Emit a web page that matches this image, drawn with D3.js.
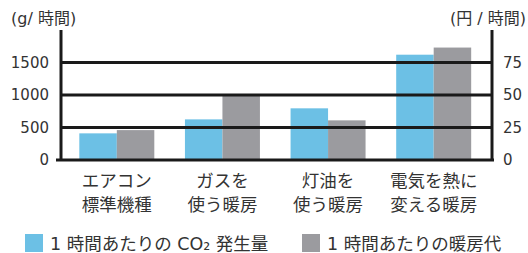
<!DOCTYPE html>
<html><head><meta charset="utf-8">
<script src="https://cdn.jsdelivr.net/npm/d3@7/dist/d3.min.js"></script>
<style>
body{margin:0;background:#fff;}
text{font-family:"DejaVu Sans","Noto Sans CJK JP",sans-serif;fill:#333;}
</style></head><body>
<svg id="c" width="528" height="253"></svg>
<script>
const categories = [["エアコン","標準機種"],["ガスを","使う暖房"],["灯油を","使う暖房"],["電気を熱に","変える暖房"]];
const co2Values = [410, 625, 795, 1620];      // g/時間
const costValues = [23, 50, 30.5, 86.5];      // 円/時間
const leftTicks = [0, 500, 1000, 1500];
const rightTicks = [0, 25, 50, 75];
const seriesNames = ["1 時間あたりの CO₂ 発生量", "1 時間あたりの暖房代"];
const colors = ["#6cc0e5", "#9b9b9f"];

const svg = d3.select("#c");
const yL = d3.scaleLinear().domain([0, 2000]).range([160, 30]);
const yR = d3.scaleLinear().domain([0, 100]).range([160, 30]);
const x = d3.scaleBand().domain(d3.range(categories.length)).range([64, 486.5]).paddingInner(0.29).paddingOuter(0.145);
const xs = d3.scaleBand().domain([0, 1]).range([0, x.bandwidth()]);

const g = svg.append("g");
categories.forEach((c, i) => {
  g.append("rect").attr("x", x(i) + xs(0)).attr("width", xs.bandwidth())
    .attr("y", yL(co2Values[i])).attr("height", yL(0) - yL(co2Values[i])).attr("fill", colors[0]);
  g.append("rect").attr("x", x(i) + xs(1)).attr("width", xs.bandwidth())
    .attr("y", yR(costValues[i])).attr("height", yR(0) - yR(costValues[i])).attr("fill", colors[1]);
});

// grid lines
svg.append("g").selectAll("line").data(leftTicks.filter(d => d > 0)).join("line")
  .attr("x1", 61).attr("x2", 492).attr("y1", d => yL(d)).attr("y2", d => yL(d))
  .attr("stroke", "#1a1a1a").attr("stroke-width", 3);

// axes lines
svg.append("line").attr("x1", 61).attr("x2", 61).attr("y1", yL(2000)).attr("y2", yL(0)).attr("stroke", "#1a1a1a").attr("stroke-width", 3);
svg.append("line").attr("x1", 492).attr("x2", 492).attr("y1", yR(100)).attr("y2", yR(0)).attr("stroke", "#1a1a1a").attr("stroke-width", 3);
svg.append("line").attr("x1", 56).attr("x2", 494).attr("y1", yL(0)).attr("y2", yL(0)).attr("stroke", "#1a1a1a").attr("stroke-width", 3);

// tick labels
const axL = d3.axisLeft(yL).tickValues(leftTicks).tickFormat(d3.format("d")).tickSize(0).tickPadding(0);
const gL = svg.append("g").attr("transform", "translate(49,0)").call(axL);
gL.select(".domain").remove();
gL.selectAll("text").attr("font-size", 15).attr("fill", "#333").style("font-family", '"DejaVu Sans",sans-serif');
const axR = d3.axisRight(yR).tickValues(rightTicks).tickFormat(d3.format("d")).tickSize(0).tickPadding(0);
const gR = svg.append("g").attr("transform", "translate(503,0)").call(axR);
gR.select(".domain").remove();
gR.selectAll("text").attr("font-size", 15).attr("fill", "#333").style("font-family", '"DejaVu Sans",sans-serif');

// unit labels
svg.append("text").attr("x", 11).attr("y", 24).attr("font-size", 16).text("(g/ 時間)");
svg.append("text").attr("x", 526).attr("y", 24).attr("text-anchor", "end").attr("font-size", 16).text("(円 / 時間)");

// category labels
categories.forEach((c, i) => {
  const cx = x(i) + x.bandwidth() / 2;
  c.forEach((line, j) => {
    svg.append("text").attr("x", cx).attr("y", 187 + j * 23.5).attr("text-anchor", "middle")
      .attr("font-size", 17.5).text(line);
  });
});

// legend
const legX = [25, 302];
seriesNames.forEach((n, i) => {
  svg.append("rect").attr("x", legX[i]).attr("y", 234).attr("width", 18).attr("height", 18).attr("fill", colors[i]);
  svg.append("text").attr("x", legX[i] + 25).attr("y", 250).attr("font-size", 17.5).text(n);
});
</script></body></html>
